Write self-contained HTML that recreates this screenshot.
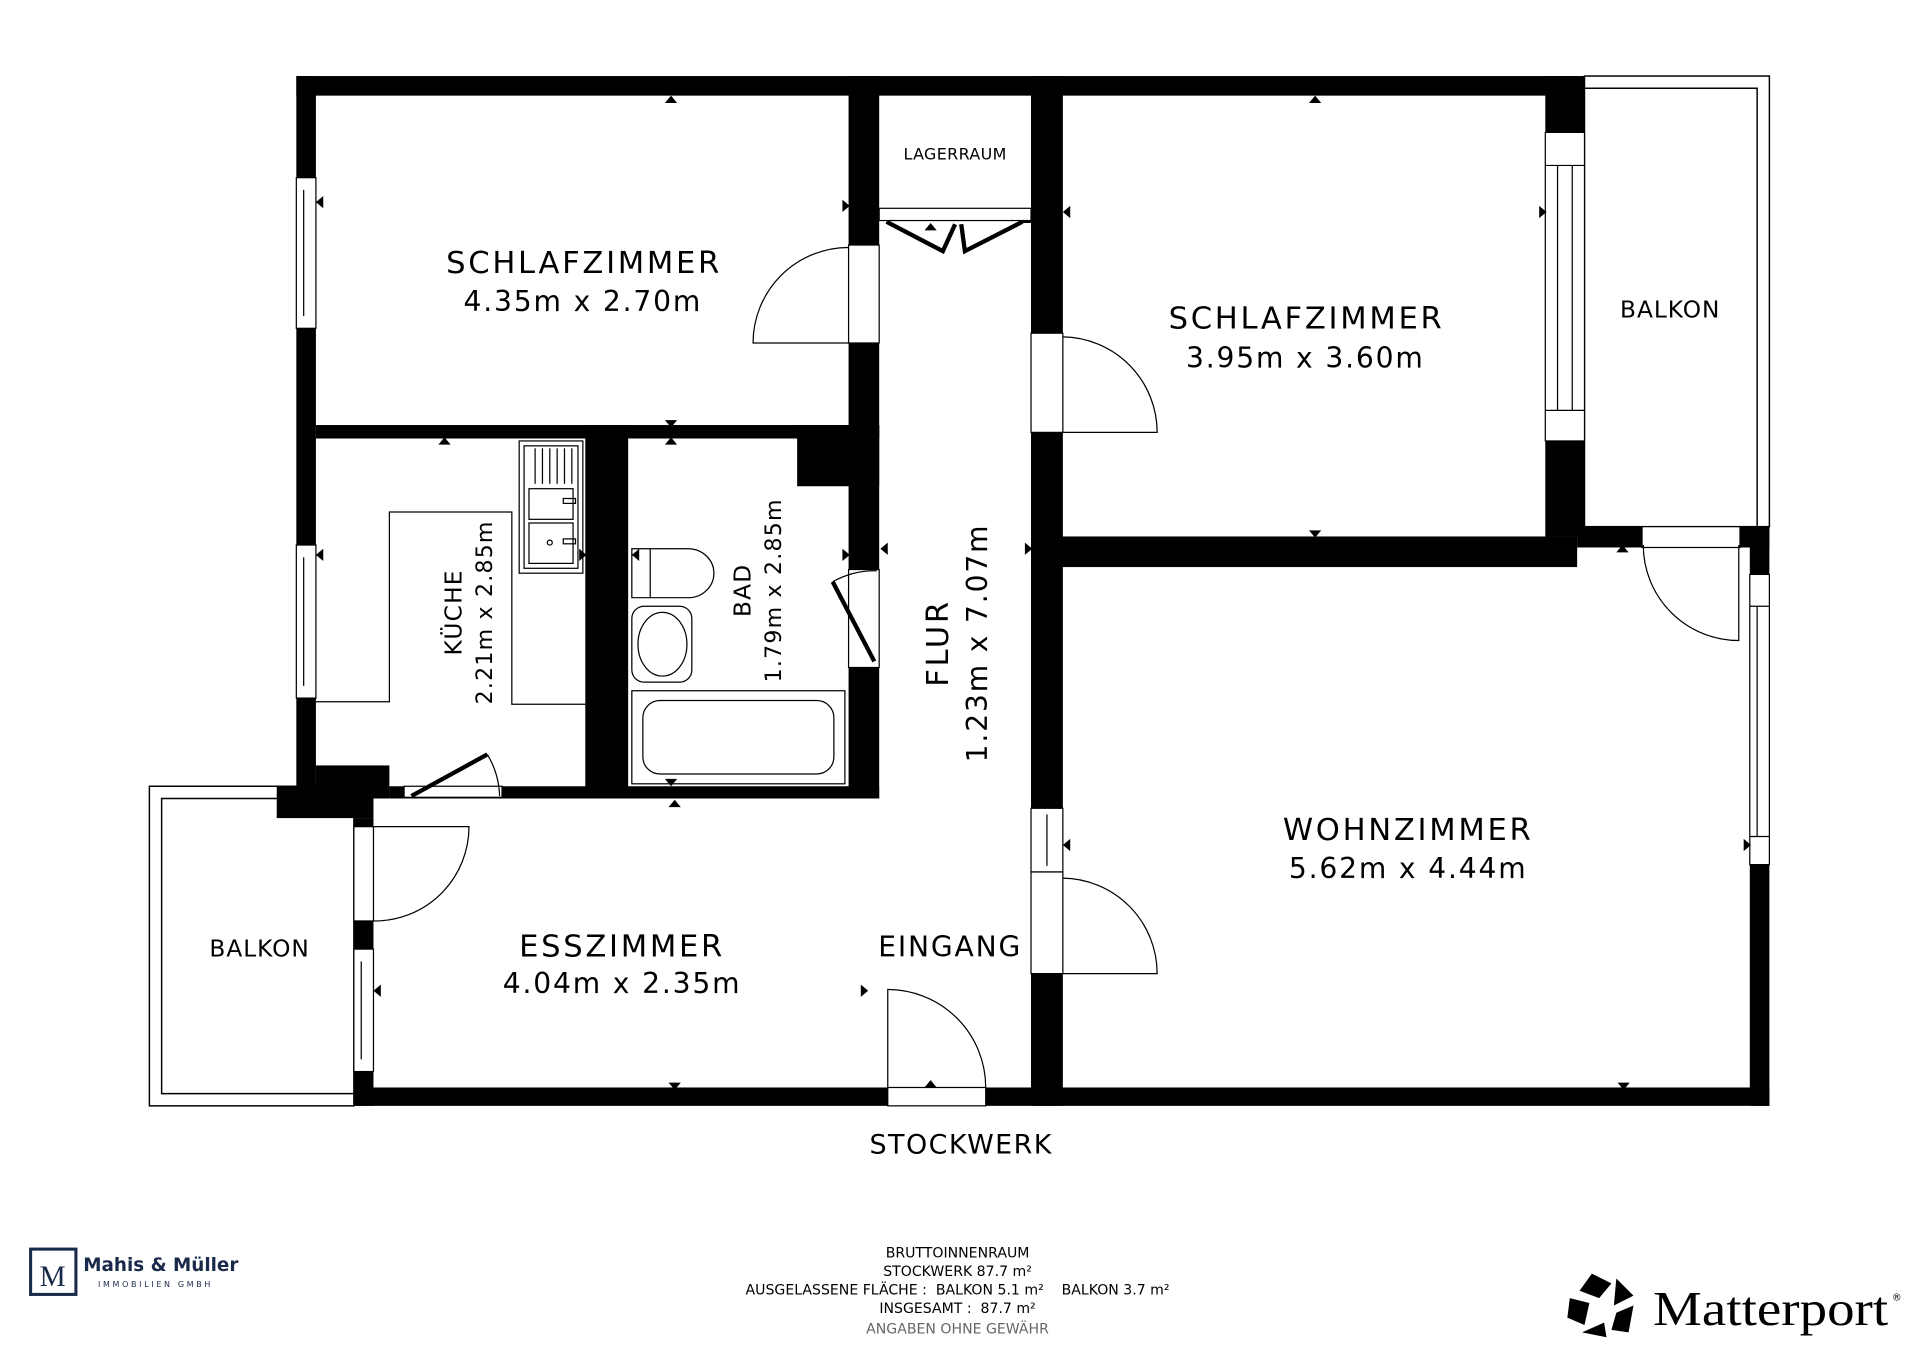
<!DOCTYPE html>
<html><head><meta charset="utf-8"><style>html,body{margin:0;padding:0;background:#fff}svg{display:block}text{font-family:"DejaVu Sans","Liberation Sans",sans-serif;fill:#000;white-space:pre}.big{letter-spacing:2.2px}.dim{letter-spacing:1.5px}</style></head>
<body>
<svg width="1920" height="1357" viewBox="0 0 1568 1108" xmlns="http://www.w3.org/2000/svg" xml:space="preserve">
<rect width="1568" height="1108" fill="#fff"/>
<g fill="none" stroke="#000" stroke-width="1.2">
<rect x="1294" y="62" width="151" height="368"/>
<polyline points="1294,72 1435,72 1435,430"/>
<rect x="122" y="642" width="167" height="261"/>
<polyline points="289,652 132,652 132,893 289,893"/>
</g>
<g fill="#000">
<rect x="242" y="62" width="1052" height="16"/>
<rect x="242" y="62" width="16" height="580"/>
<rect x="1262" y="62" width="32" height="376"/>
<rect x="226" y="642" width="79" height="26"/>
<rect x="258" y="625" width="60" height="27"/>
<rect x="289" y="668" width="16" height="235"/>
<rect x="289" y="888" width="1156" height="15"/>
<rect x="1429" y="430" width="16" height="473"/>
<rect x="842" y="438" width="446" height="25"/>
<rect x="1288" y="430" width="157" height="17"/>
<rect x="693" y="62" width="25" height="296"/>
<rect x="258" y="347" width="460" height="11"/>
<rect x="478" y="347" width="35" height="305"/>
<rect x="651" y="347" width="67" height="50"/>
<rect x="693" y="347" width="25" height="305"/>
<rect x="318" y="642" width="400" height="10"/>
<rect x="842" y="62" width="26" height="841"/>
<rect x="835" y="172" width="7" height="10"/>
</g>
<g fill="#fff" stroke="#000" stroke-width="1">
<rect x="242" y="145" width="16" height="123"/>
<rect x="242" y="445" width="16" height="125"/>
<rect x="1262" y="108" width="32" height="252"/>
<rect x="1429" y="469" width="16" height="237"/>
<rect x="289" y="675" width="16" height="77"/>
<rect x="289" y="775" width="16" height="100"/>
<rect x="693" y="200" width="25" height="80"/>
<rect x="693" y="465" width="25" height="80"/>
<rect x="842" y="272" width="26" height="81"/>
<rect x="842" y="660" width="26" height="52"/>
<rect x="842" y="712" width="26" height="83"/>
<rect x="1341" y="430" width="80" height="17"/>
<rect x="725" y="888" width="80" height="15"/>
<rect x="330" y="642" width="80" height="9"/>
<rect x="718" y="170" width="124" height="10"/>
</g>
<g fill="none" stroke="#000" stroke-width="1">
<line x1="248" y1="155" x2="248" y2="258"/><line x1="248" y1="455" x2="248" y2="560"/>
<line x1="1272" y1="135" x2="1272" y2="335"/><line x1="1284" y1="135" x2="1284" y2="335"/><line x1="1262" y1="135" x2="1294" y2="135"/><line x1="1262" y1="335" x2="1294" y2="335"/>
<line x1="1435" y1="495" x2="1435" y2="683"/><line x1="1429" y1="495" x2="1445" y2="495"/><line x1="1429" y1="683" x2="1445" y2="683"/>
<line x1="295" y1="785" x2="295" y2="865"/><line x1="855" y1="665" x2="855" y2="707"/>
<path d="M693,280 L615,280 A78,78 0 0 1 693,202"/>
<path d="M868,353 L945,353 A78,78 0 0 0 868,275"/>
<path d="M868,795 L945,795 A78,78 0 0 0 868,717"/>
<path d="M305,675 L383,675 A77,77 0 0 1 305,752"/>
<path d="M725,888 L725,808 A80,80 0 0 1 805,888"/>
<path d="M1420,445 L1420,523 A78,78 0 0 1 1342,445"/>
<path d="M680,475 A70,70 0 0 1 716,466"/>
<path d="M398,616 A70,70 0 0 1 408,650"/>
<polyline points="258,573 318,573 318,418 418,418 418,575 478,575"/>
<rect x="424" y="360" width="52" height="108"/>
<rect x="428" y="364" width="44" height="100"/>
<rect x="432" y="399" width="36" height="25"/><rect x="432" y="427" width="36" height="33"/>
<line x1="437" y1="366" x2="437" y2="395"/><line x1="443" y1="366" x2="443" y2="395"/><line x1="449" y1="366" x2="449" y2="395"/><line x1="455" y1="366" x2="455" y2="395"/><line x1="461" y1="366" x2="461" y2="395"/><line x1="467" y1="366" x2="467" y2="395"/>
<rect x="460" y="407" width="10" height="4"/><rect x="460" y="440" width="10" height="4"/><circle cx="449" cy="443" r="2"/>
<path d="M516,448 L562,448 A21,20 0 0 1 562,488 L516,488 Z"/><line x1="531" y1="448" x2="531" y2="488"/>
<rect x="516" y="495" width="49" height="62" rx="10"/>
<ellipse cx="541" cy="526" rx="20" ry="26"/>
<rect x="516" y="564" width="174" height="76"/>
<rect x="525" y="572" width="156" height="60" rx="14"/>
</g>
<g stroke="#000" stroke-width="3.5" fill="none">
<line x1="680" y1="475" x2="714" y2="540"/>
<line x1="336" y1="650" x2="398" y2="616"/>
<polyline points="724,181 770,205 780,183"/>
<polyline points="835,181 788,205 785,183"/>
</g>
<g fill="#000">
<path d="M543,84 l5,-6 l5,6z"/><path d="M543,343 l5,6 l5,-6z"/><path d="M543,363 l5,-6 l5,6z"/><path d="M358,363 l5,-6 l5,6z"/>
<path d="M1069,84 l5,-6 l5,6z"/><path d="M1069,433 l5,6 l5,-6z"/><path d="M1320,451 l5,-6 l5,6z"/>
<path d="M546,884 l5,6 l5,-6z"/><path d="M1321,884 l5,6 l5,-6z"/><path d="M546,659 l5,-6 l5,6z"/><path d="M543,636 l5,6 l5,-6z"/><path d="M755,888 l5,-6 l5,6z"/><path d="M755,188 l5,-6 l5,6z"/>
<path d="M264,160 l-6,5 l6,5z"/><path d="M264,448 l-6,5 l6,5z"/><path d="M688,163 l6,5 l-6,5z"/><path d="M688,448 l6,5 l-6,5z"/><path d="M522,448 l-6,5 l6,5z"/><path d="M473,448 l6,5 l-6,5z"/>
<path d="M725,443 l-6,5 l6,5z"/><path d="M837,443 l6,5 l-6,5z"/><path d="M874,168 l-6,5 l6,5z"/><path d="M1257,168 l6,5 l-6,5z"/>
<path d="M874,685 l-6,5 l6,5z"/><path d="M1424,685 l6,5 l-6,5z"/><path d="M311,804 l-6,5 l6,5z"/><path d="M703,804 l6,5 l-6,5z"/>
</g>
<g text-anchor="middle">
<text x="780" y="130" font-size="13" class="dim" style="letter-spacing:0.3px">LAGERRAUM</text>
<text x="477" y="223" font-size="25" class="big">SCHLAFZIMMER</text>
<text x="476" y="254" font-size="23" class="dim">4.35m x 2.70m</text>
<text x="1067" y="268" font-size="25" class="big">SCHLAFZIMMER</text>
<text x="1066" y="300" font-size="23" class="dim">3.95m x 3.60m</text>
<text x="1364" y="259" font-size="19" style="letter-spacing:0.8px">BALKON</text>
<text transform="translate(377,500) rotate(-90)" font-size="19" style="letter-spacing:1px">KÜCHE</text>
<text transform="translate(402,500) rotate(-90)" font-size="18" style="letter-spacing:1px">2.21m x 2.85m</text>
<text transform="translate(613,482) rotate(-90)" font-size="19" style="letter-spacing:1px">BAD</text>
<text transform="translate(638,482) rotate(-90)" font-size="18" style="letter-spacing:1px">1.79m x 2.85m</text>
<text transform="translate(774,525) rotate(-90)" font-size="25" class="big">FLUR</text>
<text transform="translate(806,525) rotate(-90)" font-size="23" class="dim">1.23m x 7.07m</text>
<text x="1150" y="686" font-size="25" class="big">WOHNZIMMER</text>
<text x="1150" y="717" font-size="23" class="dim">5.62m x 4.44m</text>
<text x="508" y="781" font-size="25" class="big">ESSZIMMER</text>
<text x="508" y="811" font-size="23" class="dim">4.04m x 2.35m</text>
<text x="776" y="781" font-size="23" style="letter-spacing:1.5px">EINGANG</text>
<text x="212" y="781" font-size="19" style="letter-spacing:0.8px">BALKON</text>
<text x="785" y="942" font-size="22" style="letter-spacing:1.2px">STOCKWERK</text>
<g font-size="11.5">
<text x="782" y="1027">BRUTTOINNENRAUM</text>
<text x="782" y="1042">STOCKWERK 87.7 m²</text>
<text x="782" y="1057">AUSGELASSENE FLÄCHE :  BALKON 5.1 m²    BALKON 3.7 m²</text>
<text x="782" y="1072">INSGESAMT :  87.7 m²</text>
<text x="782" y="1089" style="fill:#666">ANGABEN OHNE GEWÄHR</text>
</g>
</g>
<rect x="25" y="1020" width="37" height="37" fill="none" stroke="#1a2a4a" stroke-width="2.5"/>
<text x="43" y="1050" font-size="24" text-anchor="middle" style="font-family:'Liberation Serif',serif;fill:#1a2a4a">M</text>
<text x="68" y="1038" font-size="15" style="fill:#1a2a4a;font-weight:bold">Mahis &amp; Müller</text>
<text x="80" y="1051" font-size="6.5" letter-spacing="2.2" style="fill:#1a2a4a">IMMOBILIEN GMBH</text>
<g fill="#000">
<polygon points="1300,1040 1316,1048 1306,1060 1290,1054"/>
<polygon points="1320,1044 1334,1058 1318,1066"/>
<polygon points="1282,1060 1298,1064 1294,1082 1280,1076"/>
<polygon points="1320,1072 1334,1066 1330,1088 1316,1086"/>
<polygon points="1292,1088 1310,1080 1312,1092"/>
</g>
<text x="1350" y="1082" font-size="40" textLength="192" lengthAdjust="spacingAndGlyphs" style="font-family:'Liberation Serif',serif">Matterport</text>
<text x="1545" y="1062" font-size="8">®</text>
</svg>
</body></html>
